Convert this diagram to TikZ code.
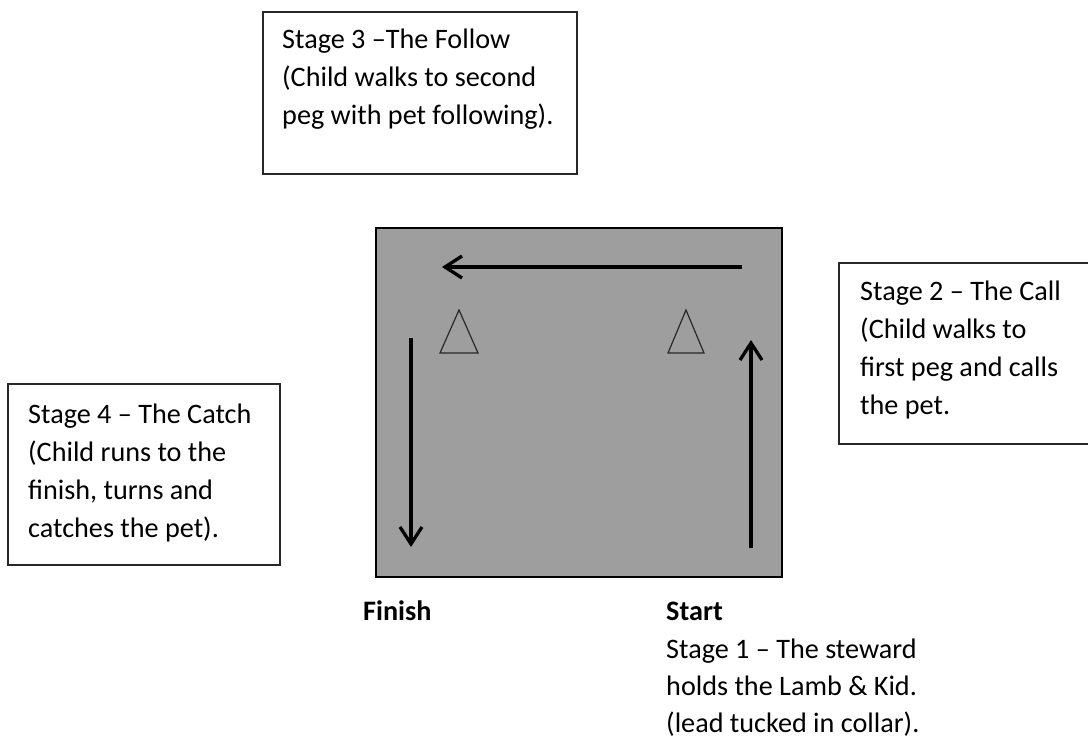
\documentclass[tikz,border=0pt]{standalone}
\usepackage{fontspec}
\setmainfont{Carlito}
\usetikzlibrary{arrows.meta}
\definecolor{fieldgray}{RGB}{158,158,158}
\definecolor{edgegray}{RGB}{40,40,40}
\begin{document}
\begin{tikzpicture}[x=1pt,y=-1pt,
  frame/.style={draw=edgegray,line width=1.3pt,inner sep=0pt},
  txt/.style={anchor=north west,inner sep=0pt,align=left,font=\fontsize{28.2}{38}\selectfont},
  lbl/.style={anchor=base west,inner sep=0pt,font=\fontsize{28.2}{38}\selectfont\bfseries},
  path/.style={line width=3.3pt,-{Straight Barb[length=17pt,width=22pt,line width=3.3pt]}},
  peg/.style={draw=edgegray,line width=1.2pt,line join=miter}]
\useasboundingbox (0,0) rectangle (1088,744);
% field
\filldraw[fill=fieldgray,draw=black,line width=2pt] (376,228) rectangle (782,577);
% boxes
\draw[frame] (263,12) rectangle (577,174);
\draw[frame] (839,263) rectangle (1095,444);
\draw[frame] (8,384) rectangle (280,565);
% texts
\node[txt] (s3) at (282,21.4) {\strut Stage 3 --The Follow\\(Child walks to second\\peg with pet following).};
\node[txt] (s2) at (860,273.4) {\strut Stage 2 -- The Call\\(Child walks to\\first peg and calls\\the pet.};
\node[txt] (s4) at (28,396.4) {\strut Stage 4 -- The Catch\\(Child runs to the\\finish, turns and\\catches the pet).};
\node[lbl] (finish) at (363,620) {Finish};
\node[lbl] (start) at (666,620) {Start};
\node[txt,font=\fontsize{28.2}{37.3}\selectfont] (s1) at (666,631.9) {\strut Stage 1 -- The steward\\holds the Lamb \& Kid.\\(lead tucked in collar).};
% pegs
\draw[peg] (459,310) -- (478,353) -- (440,353) -- cycle;
\draw[peg] (686,310) -- (704,353) -- (668,353) -- cycle;
% paths
\coordinate (a1) at (751,548);
\coordinate (a2) at (751,340);
\coordinate (b1) at (742,267);
\coordinate (b2) at (442,267);
\coordinate (c1) at (411,338);
\coordinate (c2) at (411,547);
\draw[path] (a1) -- (a2);
\draw[path] (b1) -- (b2);
\draw[path] (c1) -- (c2);
\end{tikzpicture}
\end{document}
